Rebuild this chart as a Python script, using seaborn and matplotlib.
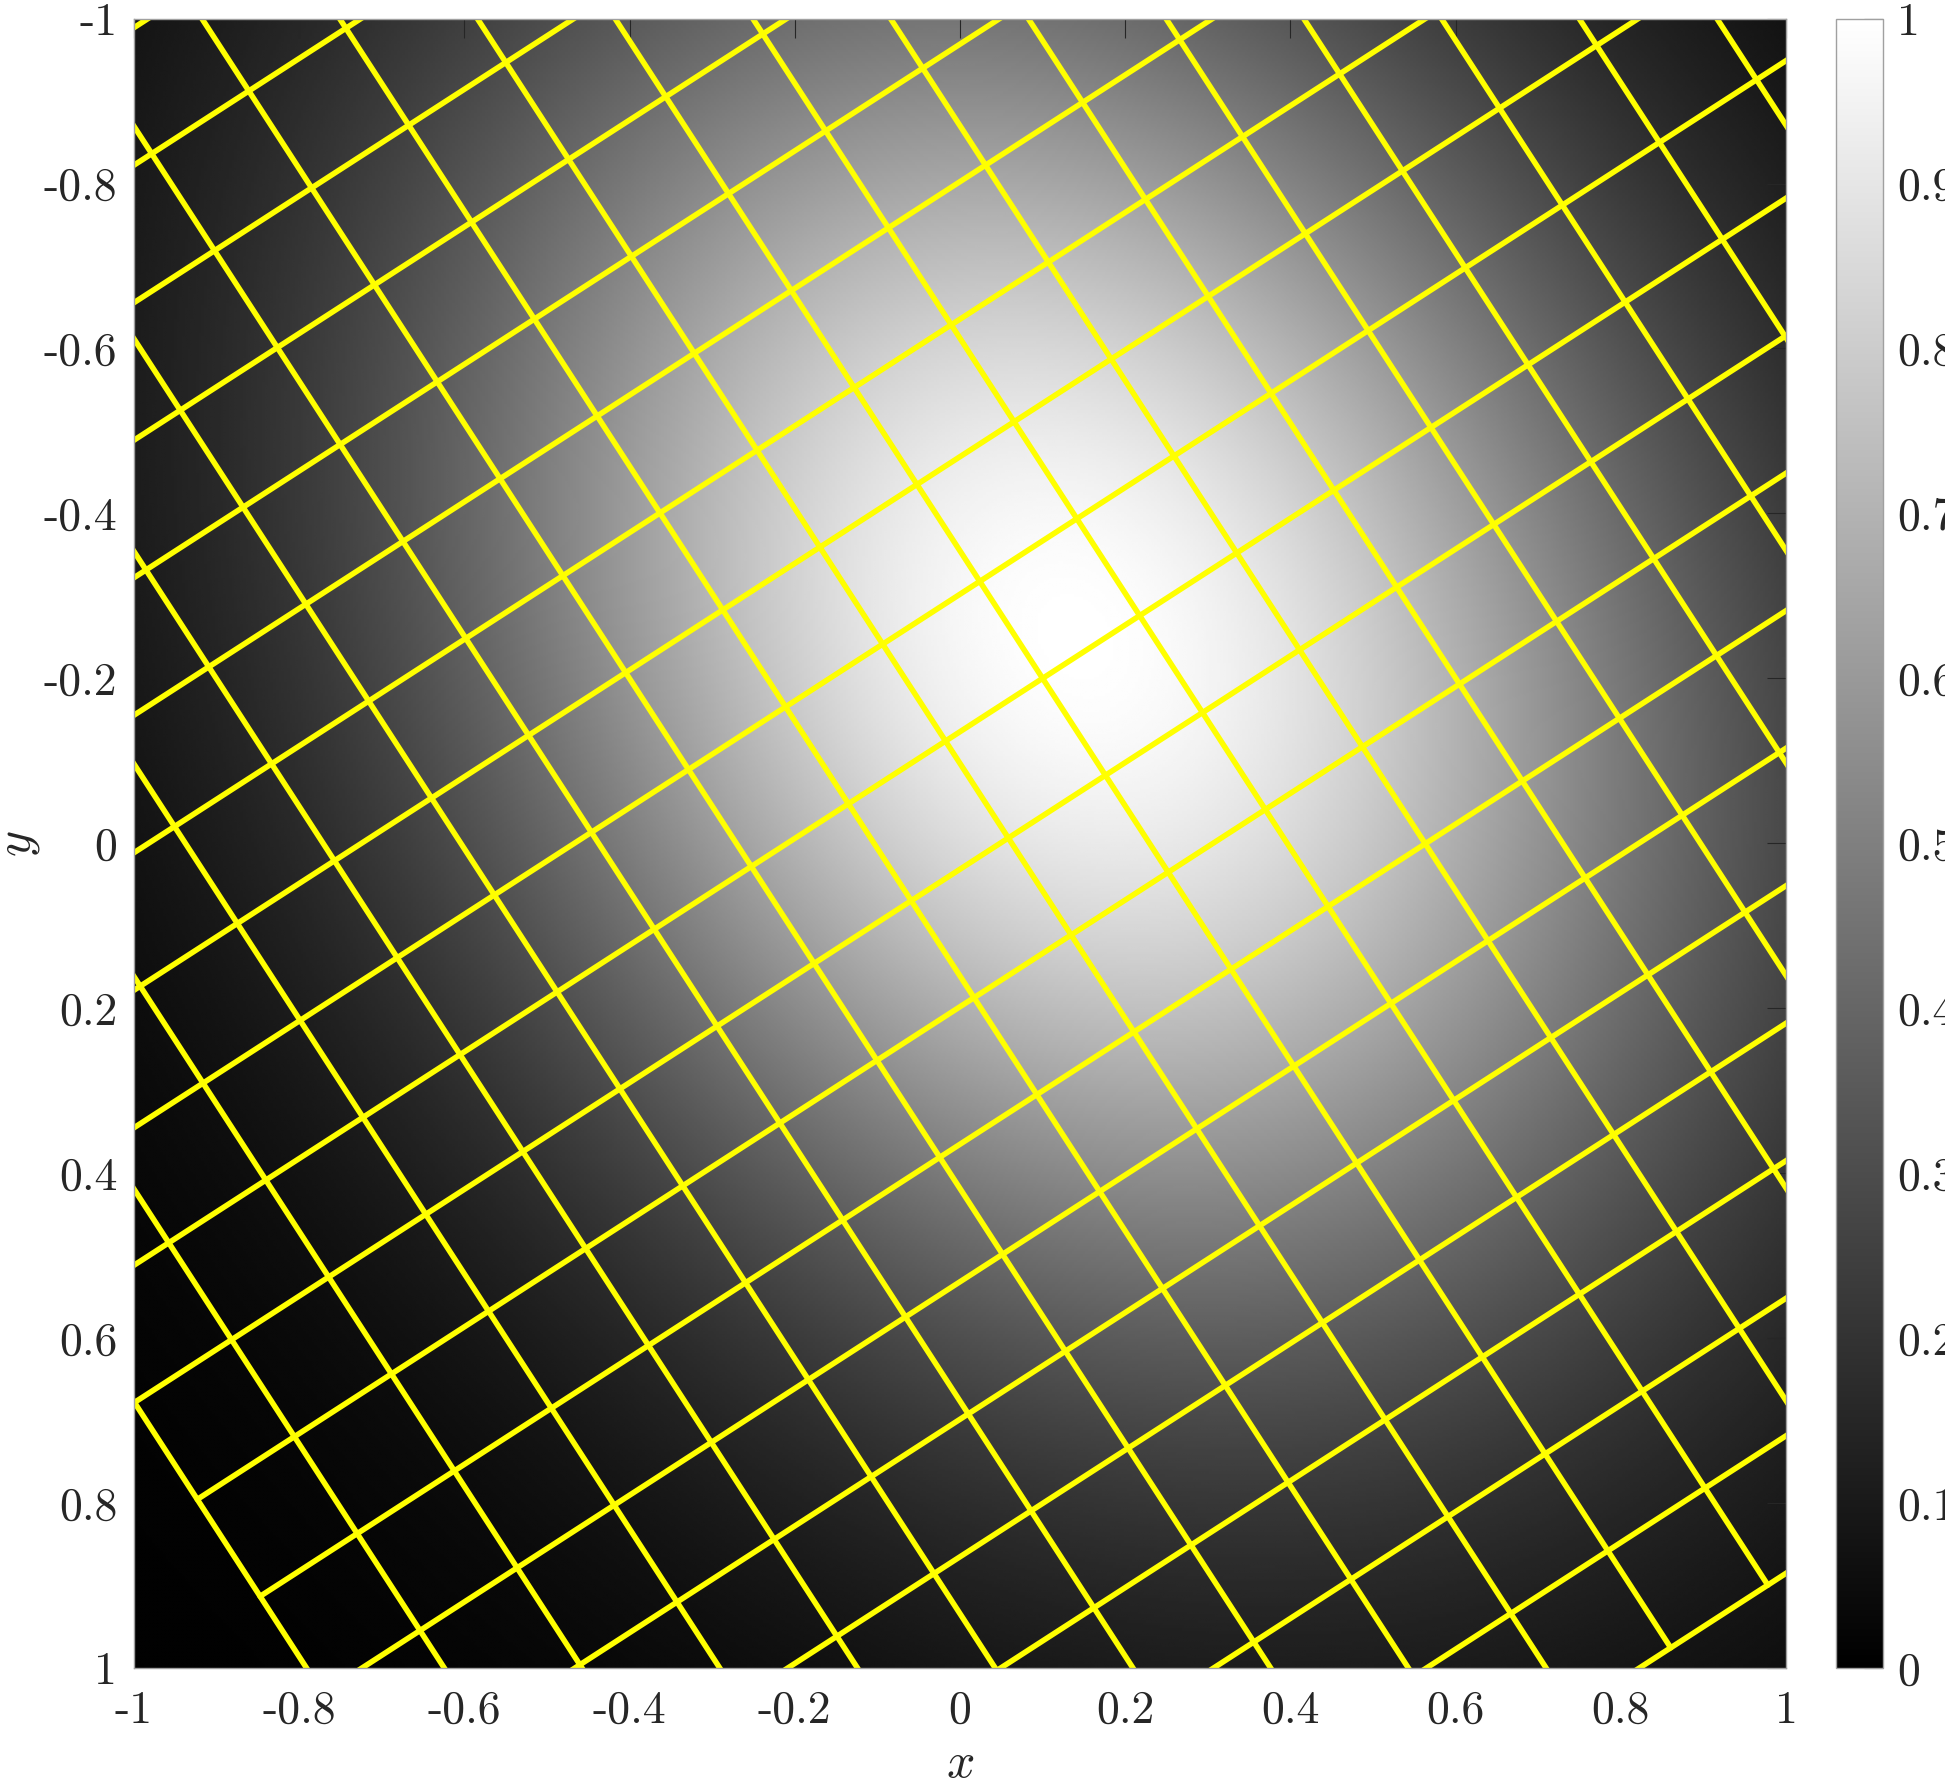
import numpy as np
import pandas as pd
import matplotlib
matplotlib.use("Agg")
import matplotlib.pyplot as plt
import seaborn as sns

# axis ticks (y axis runs downward, -1 on top)
tick_values = [-1, -0.8, -0.6, -0.4, -0.2, 0, 0.2, 0.4, 0.6, 0.8, 1]
tick_labels = ["-1", "-0.8", "-0.6", "-0.4", "-0.2", "0", "0.2", "0.4", "0.6", "0.8", "1"]
cbar_values = [0, 0.1, 0.2, 0.3, 0.4, 0.5, 0.6, 0.7, 0.8, 0.9, 1]
cbar_labels = ["0", "0.1", "0.2", "0.3", "0.4", "0.5", "0.6", "0.7", "0.8", "0.9", "1"]

# rotated yellow mesh: 21 x 21 lines
grid_center = (0.10, -0.20)
grid_angle = 32.9          # degrees
grid_spacing = 0.14
grid_index = list(range(-10, 11))

# grey blob (gaussian in the rotated frame)
blob_center = (0.14, -0.25)
blob_sigma = (0.50, 0.64)  # across / along the steep mesh lines
n_pix = 600

sns.set_theme(style="white")
plt.rcParams["font.family"] = ["cmr10", "DejaVu Serif"]
plt.rcParams["mathtext.fontset"] = "cm"
plt.rcParams["axes.unicode_minus"] = False

th = np.deg2rad(grid_angle)
e1 = np.array([np.cos(th), -np.sin(th)])   # shallow direction
e2 = np.array([np.sin(th), np.cos(th)])    # steep direction

# image
xs = np.linspace(-1, 1, n_pix)
X, Y = np.meshgrid(xs, xs)
dx, dy = X - blob_center[0], Y - blob_center[1]
s = dx * e1[0] + dy * e1[1]
t = dx * e2[0] + dy * e2[1]
Z = np.exp(-(s**2 / (2 * blob_sigma[0]**2) + t**2 / (2 * blob_sigma[1]**2)))

# mesh lines as long table
half = grid_index[-1] * grid_spacing
c = np.array(grid_center)
rows = []
for k in grid_index:
    for end in (-half, half):
        p = c + k * grid_spacing * e1 + end * e2
        rows.append(("a%d" % k, p[0], p[1]))
        p = c + end * e1 + k * grid_spacing * e2
        rows.append(("b%d" % k, p[0], p[1]))
mesh = pd.DataFrame(rows, columns=["line", "x", "y"])

fig = plt.figure(figsize=(19.45, 17.84), dpi=100)
W, H = 1945, 1784
ax = fig.add_axes([134 / W, 1 - 1668 / H, (1786 - 134) / W, (1668 - 18.6) / H])
cax = fig.add_axes([1836 / W, 1 - 1668 / H, 47 / W, (1668 - 18.6) / H])

im = ax.imshow(Z, extent=[-1, 1, 1, -1], origin="upper", cmap="gray",
               vmin=0, vmax=1, interpolation="bilinear", aspect="auto")
sns.lineplot(data=mesh, x="x", y="y", units="line", estimator=None, sort=False,
             color="#FFFF00", linewidth=4, ax=ax, legend=False)

ax.set_xlim(-1, 1)
ax.set_ylim(1, -1)
ax.set_xticks(tick_values)
ax.set_xticklabels(tick_labels)
ax.set_yticks(tick_values)
ax.set_yticklabels(tick_labels)
ax.tick_params(direction="in", length=13.5, width=0.8, color="#262626",
               labelsize=33, labelcolor="#262626", top=True, right=True)
ax.tick_params(axis="x", pad=16)
ax.tick_params(axis="y", pad=12)
for sp in ax.spines.values():
    sp.set_color("#a0a0a0")
    sp.set_linewidth(1)

ax.set_xlabel("$x$", fontsize=36, color="#262626", va="center")
ax.xaxis.set_label_coords(0.5, -(1764 - 1668) / 1650)
ax.set_ylabel("$y$", fontsize=36, color="#262626", va="center")
ax.yaxis.set_label_coords(-(134 - 19) / 1652, 0.5)

cb = fig.colorbar(im, cax=cax, ticks=cbar_values)
cb.set_ticklabels(cbar_labels)
cb.outline.set_edgecolor("#a0a0a0")
cb.outline.set_linewidth(1)
cax.tick_params(direction="in", length=13.5, width=0.8, color="#262626",
                labelsize=33, labelcolor="#262626", pad=10)

fig.savefig("out.png", dpi=100)
